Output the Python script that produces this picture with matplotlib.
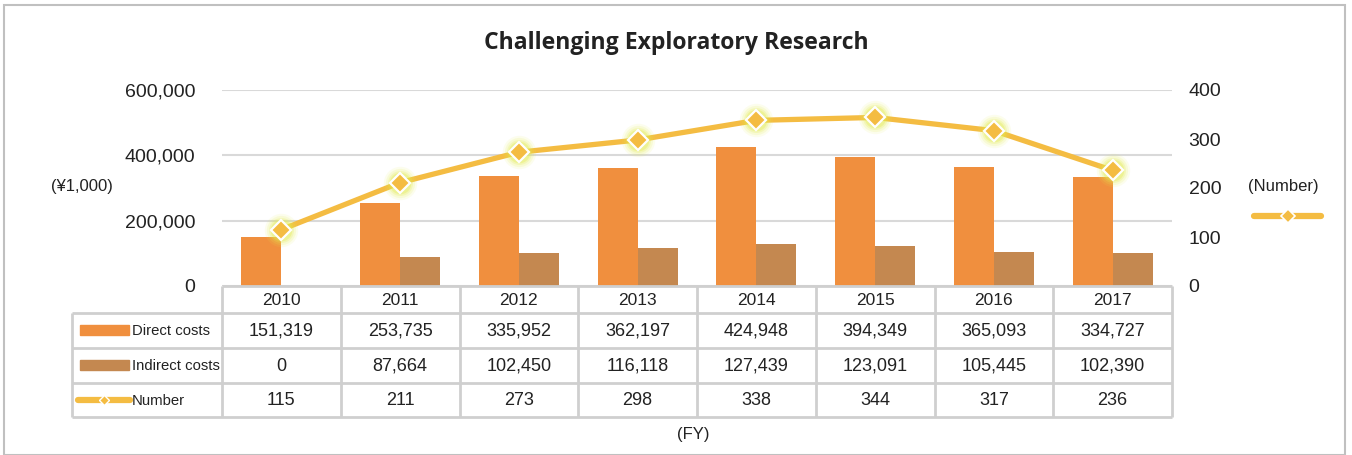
import numpy as np
import matplotlib.pyplot as plt
from matplotlib.patches import Rectangle
from matplotlib.lines import Line2D

# data
years = ['2010', '2011', '2012', '2013', '2014', '2015', '2016', '2017']
direct_costs = [151319, 253735, 335952, 362197, 424948, 394349, 365093, 334727]
indirect_costs = [0, 87664, 102450, 116118, 127439, 123091, 105445, 102390]
number = [115, 211, 273, 298, 338, 344, 317, 236]
row_labels = ['Direct costs', 'Indirect costs', 'Number']

c_direct = '#F08F3E'
c_indirect = '#C48850'
c_line = '#F4BC42'
c_grid = '#D9D9D9'
c_table = '#CFCFCF'

plt.rcParams['font.family'] = ['Liberation Sans', 'DejaVu Sans']

W, H = 1352, 455
fig = plt.figure(figsize=(W / 100, H / 100), dpi=100)

def px_box(x0, y0, x1, y1):
    return [x0 / W, 1 - y1 / H, (x1 - x0) / W, (y1 - y0) / H]

# outer frame
fig.patches.append(Rectangle((4 / W, 0), 1341 / W, 1 - 5 / H, transform=fig.transFigure,
                             fill=False, edgecolor='#C0C0C0', lw=1.5))

fig.text(676 / W, 1 - 43 / H, 'Challenging Exploratory Research', ha='center', va='center',
         fontsize=16.6, fontweight='bold', family=['Open Sans', 'DejaVu Sans'], color='#222222')

# main chart
ax = fig.add_axes(px_box(222, 90, 1172, 286))
x = np.arange(len(years))
bw = 0.337
ax.bar(x - bw / 2, direct_costs, bw, color=c_direct, zorder=2)
ax.bar(x + bw / 2, indirect_costs, bw, color=c_indirect, zorder=2)
ax.set_xlim(-0.5, len(years) - 0.5)
ax.set_ylim(0, 600000)
ax.set_yticks([0, 200000, 400000, 600000])
ax.set_yticklabels([f'{v:,}' for v in [0, 200000, 400000, 600000]])
ax.yaxis.grid(True, color=c_grid, lw=1.5, zorder=0)
ax.set_xticks([])
for s in ax.spines.values():
    s.set_visible(False)
ax.tick_params(axis='y', length=0, labelsize=14, pad=19, labelcolor='#222222')

ax2 = ax.twinx()
ax2.set_ylim(0, 400)
ax2.set_yticks([0, 100, 200, 300, 400])
ax2.tick_params(axis='y', length=0, labelsize=14, pad=12, labelcolor='#222222')
for s in ax2.spines.values():
    s.set_visible(False)
ax2.plot(x, number, color=c_line, lw=3.8, zorder=3, solid_capstyle='round')
for ms, a in [(24, 0.10), (21, 0.15), (18, 0.22), (15.5, 0.35)]:
    ax2.plot(x, number, 'o', ms=ms, color='#E2EC50', alpha=a, mec='none', zorder=3)
ax2.plot(x, number, 'D', ms=10.5, color=c_line, mec='white', mew=1.6, zorder=4)

fig.text(82 / W, 1 - 187 / H, '(¥1,000)', ha='center', va='center', fontsize=12, color='#222222')
fig.text(1283 / W, 1 - 187 / H, '(Number)', ha='center', va='center', fontsize=12, color='#222222')
leg = fig.add_axes(px_box(1250, 206, 1325, 226))
leg.set_xlim(0, 1)
leg.set_ylim(0, 1)
leg.axis('off')
leg.add_line(Line2D([0.05, 0.95], [0.5, 0.5], color=c_line, lw=4.5, solid_capstyle='round'))
leg.plot([0.5], [0.5], 'D', ms=7, color=c_line, mec='white', mew=1.2)

# data table
t = fig.add_axes(px_box(72, 286, 1172, 418))
left = -0.5 - 150 / 118.75
t.set_xlim(left, len(years) - 0.5)
t.set_ylim(418, 286)
t.axis('off')
rows = [286, 313, 348, 383, 417]
lk = dict(color=c_table, lw=2, solid_capstyle='butt', clip_on=False)
t.plot([-0.5, len(years) - 0.5], [rows[0], rows[0]], **lk)
for r in rows[1:]:
    t.plot([left, len(years) - 0.5], [r, r], **lk)
t.plot([left, left], [rows[1], rows[-1]], **lk)
for b in np.arange(len(years) + 1) - 0.5:
    t.plot([b, b], [rows[0], rows[-1]], **lk)

tc = '#222222'
for i, yr in enumerate(years):
    t.text(i, (rows[0] + rows[1]) / 2 + 1, yr, ha='center', va='center', fontsize=12.5, color=tc)
    for r, vals in enumerate([direct_costs, indirect_costs, number]):
        t.text(i, (rows[r + 1] + rows[r + 2]) / 2 + 1, f'{vals[i]:,}', ha='center', va='center',
               fontsize=13, color=tc)

lx0 = left + 8 / 118.75
lx1 = left + 57 / 118.75
for r, (lab, col) in enumerate(zip(row_labels, [c_direct, c_indirect, c_line])):
    yc = (rows[r + 1] + rows[r + 2]) / 2
    if r < 2:
        t.add_patch(Rectangle((lx0, yc - 5), lx1 - lx0, 10, color=col))
    else:
        t.plot([left + 6 / 118.75, left + 58 / 118.75], [yc, yc], color=c_line, lw=4.5,
               solid_capstyle='round')
        t.plot([left + 32 / 118.75], [yc], 'D', ms=5.5, color=c_line, mec='white', mew=1)
    t.text(left + 60 / 118.75, yc + 1, lab, ha='left', va='center', fontsize=10.7, color=tc)

fig.text(693 / W, 1 - 435 / H, '(FY)', ha='center', va='center', fontsize=12, color='#222222')

fig.savefig('out.png', dpi=100)
